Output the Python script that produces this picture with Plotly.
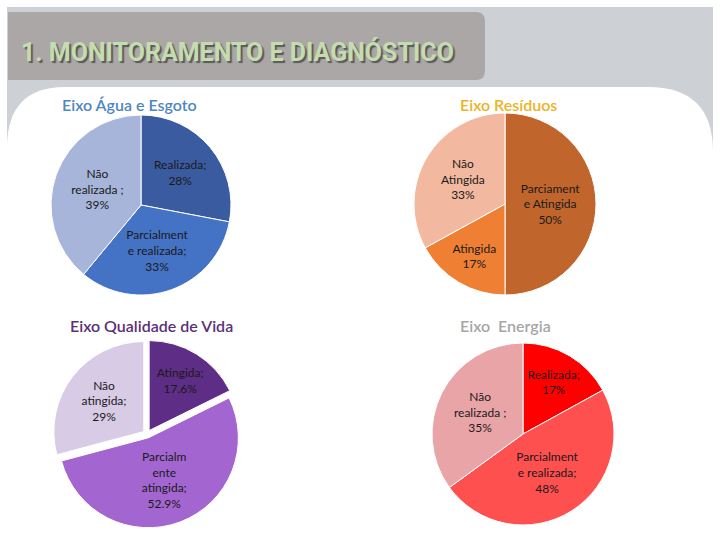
import plotly.graph_objects as go

W, H = 720, 540

# ---- data ----
agua_labels = ["Realizada", "Parcialmente realizada", "Não realizada"]
agua_values = [28, 33, 39]
agua_text = ["Realizada;<br>28%", "Parcialment<br>e realizada;<br>33%", "Não<br>realizada ;<br>39%"]

res_labels = ["Parciamente Atingida", "Atingida", "Não Atingida"]
res_values = [50, 17, 33]
res_text = ["Parciament<br>e Atingida<br>50%", "Atingida<br>17%", "Não<br>Atingida<br>33%"]

vida_labels = ["Atingida", "Parcialmente atingida", "Não atingida"]
vida_values = [17.6, 52.9, 29]
vida_text = ["Atingida;<br>17.6%", "Parcialm<br>ente<br>atingida;<br>52.9%", "Não<br>atingida;<br>29%"]

ener_labels = ["Realizada", "Parcialmente realizada", "Não realizada"]
ener_values = [17, 48, 35]
ener_text = ["Realizada;<br>17%", "Parcialment<br>e realizada;<br>48%", "Não<br>realizada ;<br>35%"]

page_title = "1. MONITORAMENTO E DIAGNÓSTICO"
pie_titles = ["Eixo Água e Esgoto", "Eixo Resíduos", "Eixo Qualidade de Vida", "Eixo  Energia"]


def px_dom(cx, cy, half):
    return dict(x=[(cx - half) / W, (cx + half) / W],
                y=[1 - (cy + half) / H, 1 - (cy - half) / H])


TXT = dict(family="Lato, Liberation Sans, sans-serif", size=12, color="#1a1a1a")

fig = go.Figure()


def add_pie(labels, values, text, colors, dom, pull=0):
    fig.add_trace(go.Pie(
        labels=labels, values=values, text=text,
        textinfo="text", textposition="inside", insidetextorientation="horizontal",
        hoverinfo="label+percent",
        marker=dict(colors=colors, line=dict(color="white", width=1)),
        sort=False, direction="clockwise", rotation=0,
        pull=pull, domain=dom, showlegend=False,
        insidetextfont=TXT,
    ))


add_pie(agua_labels, agua_values, agua_text, ["#3a5ba0", "#4472c4", "#a6b5d9"], px_dom(141, 205, 90))
add_pie(res_labels, res_values, res_text, ["#c0652b", "#ee7f33", "#f3b8a0"], px_dom(505, 204, 91))
add_pie(vida_labels, vida_values, vida_text, ["#5e2d85", "#a366d0", "#d7cbe6"], px_dom(147, 434, 94),
        pull=[0.045, 0.045, 0.045])
add_pie(ener_labels, ener_values, ener_text, ["#ff0000", "#ff5050", "#e9a4a8"], px_dom(523, 434, 91))


def X(px):
    return px / W


def Y(py):
    return 1 - py / H


shapes = []
# grey backdrop
shapes.append(dict(type="rect", xref="paper", yref="paper", x0=X(7), x1=X(713), y0=Y(540), y1=Y(7),
                   fillcolor="#cdd1d6", line=dict(width=0), layer="below"))
# white rounded panel
panel = (f"M {X(7)},{Y(540)} L {X(7)},{Y(148)} "
         f"Q {X(7)},{Y(87)} {X(65)},{Y(87)} "
         f"L {X(648)},{Y(87)} "
         f"Q {X(713)},{Y(87)} {X(713)},{Y(152)} "
         f"L {X(713)},{Y(540)} Z")
shapes.append(dict(type="path", xref="paper", yref="paper", path=panel,
                   fillcolor="white", line=dict(width=0), layer="below"))
# title banner
banner = (f"M {X(8)},{Y(12)} L {X(476)},{Y(12)} "
          f"Q {X(485)},{Y(12)} {X(485)},{Y(21)} "
          f"L {X(485)},{Y(71)} Q {X(485)},{Y(80)} {X(476)},{Y(80)} "
          f"L {X(8)},{Y(80)} Z")
shapes.append(dict(type="path", xref="paper", yref="paper", path=banner,
                   fillcolor="#aba7a7", line=dict(width=0), layer="below"))

annotations = [
    dict(text=page_title, x=X(19), y=Y(52), xref="paper", yref="paper", xanchor="left", yanchor="middle",
         showarrow=False,
         font=dict(family="Roboto, DejaVu Sans, sans-serif", size=25,
                   color="#c3dcb0", weight="bold", shadow="2px 2px 1px #5a5a5a")),
]
title_specs = [
    (pie_titles[0], 60, 105, "#4f86bf"),
    (pie_titles[1], 458, 105, "#eeb31f"),
    (pie_titles[2], 68, 325, "#5c2f7a"),
    (pie_titles[3], 458, 325, "#a6a6a6"),
]
for t, x, y, c in title_specs:
    annotations.append(dict(text=t, x=X(x), y=Y(y), xref="paper", yref="paper", xanchor="left",
                            yanchor="middle", showarrow=False,
                            font=dict(family="Lato, Liberation Sans, sans-serif", size=16, color=c,
                                      weight=600)))

fig.update_layout(
    width=W, height=H, margin=dict(l=0, r=0, t=0, b=0),
    paper_bgcolor="white", plot_bgcolor="white",
    shapes=shapes, annotations=annotations,
)

fig.write_html("out.html", config={"displayModeBar": False},
               post_script="document.body.style.margin='0';document.body.style.overflow='hidden';")
